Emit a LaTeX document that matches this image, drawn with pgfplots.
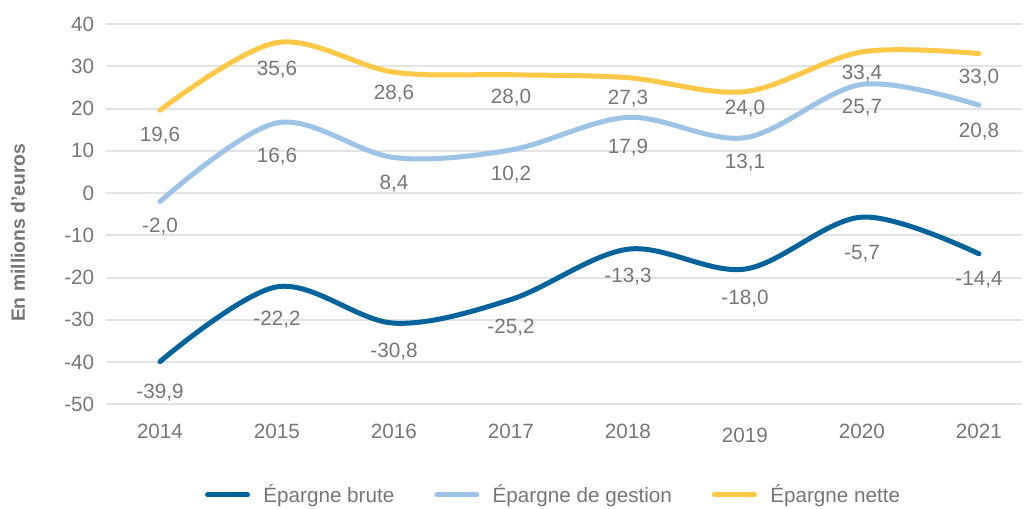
\documentclass[border=0pt]{standalone}
\usepackage{pgfplots}
\pgfplotsset{compat=1.18}
\usepackage{fontspec}
\setmainfont{Liberation Sans}
\definecolor{cbrute}{HTML}{00639B}
\definecolor{cgest}{HTML}{9DC3E6}
\definecolor{cnette}{HTML}{FFC846}
\definecolor{txt}{HTML}{767676}
\definecolor{gridc}{HTML}{E3E3E3}
\begin{document}
\begin{tikzpicture}
\useasboundingbox (-79.5pt,-77.8pt) rectangle (689.25pt,303.2pt);
\begin{axis}[
  at={(0,0)}, anchor=south west,
  scale only axis, width=687pt, height=285.2pt,
  xmin=-0.4615, xmax=7.368, ymin=-50, ymax=40,
  axis line style={draw=none},
  major tick length=0pt,
  ytick={-50,-40,...,40},
  xtick={0,...,7},
  xticklabels={2014,2015,2016,2017,2018,{\raisebox{-3pt}[\height][\depth]{2019}},2020,2021},
  ymajorgrids, grid style={gridc, line width=1.5pt},
  tick label style={font=\fontsize{15.5}{18}\selectfont, text=txt},
  /pgf/number format/assume math mode=true,
  yticklabel style={xshift=-5.3pt},
  xticklabel style={yshift=-11.3pt},
  ylabel={En millions d’euros},
  ylabel style={at={(axis description cs:-0.096,0.451)}, anchor=center, font=\bfseries\fontsize{14.5}{16}\selectfont, text=txt},
  nodes near coords={\pgfmathprintnumber[fixed,fixed zerofill,precision=1,use comma,assume math mode=true]{\pgfplotspointmeta}},
  nodes near coords align={anchor=north},
  every node near coord/.append style={font=\fontsize{15.5}{18}\selectfont, text=txt, yshift={-7.5pt+\dy*0.75pt}},
  legend style={draw=none, fill=none, at={(axis description cs:0.489,0)}, anchor=center, yshift=-68pt,
    legend columns=3, font=\fontsize{15.5}{18}\selectfont, text=txt,
    /tikz/every odd column/.append style={column sep=8pt},
    /tikz/every even column/.append style={column sep=28pt}},
  legend cell align=left,
  legend image code/.code={\draw[#1, line cap=round, line width=3.75pt] (0pt,0pt) -- (30pt,0pt);},
  every axis plot/.append style={line width=3.75pt, smooth, tension=0.55, line cap=round},
]
\addplot[cbrute, visualization depends on={\thisrow{dy}\as\dy}] table[x=x, y=y] {
x y dy
0 -39.9 -6
1 -22.2 -7
2 -30.8 -3
3 -25.2 -3
4 -13.3 -2
5 -18.0 -4
6 -5.7 -11
7 -14.4 0
};
\addlegendentry{Épargne brute}
\addplot[cgest, visualization depends on={\thisrow{dy}\as\dy}] table[x=x, y=y] {
x y dy
0 -2.0 0
1 16.6 -8
2 8.4 -1
3 10.2 1
4 17.9 -5
5 13.1 1
6 25.7 2
7 20.8 -1
};
\addlegendentry{Épargne de gestion}
\addplot[cnette, visualization depends on={\thisrow{dy}\as\dy}] table[x=x, y=y] {
x y dy
0 19.6 0
1 35.6 -2
2 28.6 4
3 28.0 3
4 27.3 5
5 24.0 8
6 33.4 4
7 33.0 1
};
\addlegendentry{Épargne nette}
\end{axis}
\end{tikzpicture}
\end{document}
